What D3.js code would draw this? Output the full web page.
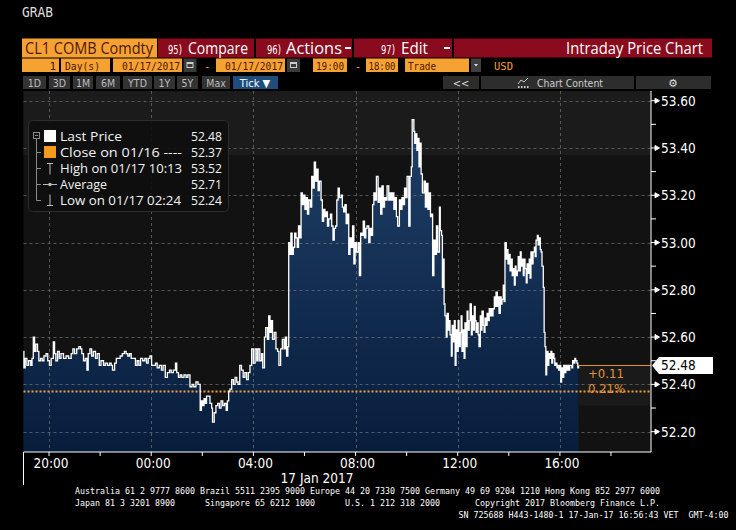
<!DOCTYPE html>
<html>
<head>
<meta charset="utf-8">
<script src="https://cdn.jsdelivr.net/npm/d3@7"></script>
<style>
html, body { margin: 0; padding: 0; background: #000; }
svg { display: block; }
</style>
</head>
<body>
<svg id="chart" width="736" height="530"></svg>
<script>
// Tick data: minutes after the 19:00 session open (16 Jan 2017) and price
const tickMinutes = [
    0, 1, 4, 8, 12, 17, 20, 23, 26, 29,
    33, 36, 40, 44, 48, 53, 57, 61, 65, 70,
    73, 76, 80, 84, 88, 94, 100, 106, 112, 116,
    120, 125, 130, 134, 137, 141, 145, 149, 152, 156,
    160, 164, 169, 173, 178, 182, 188, 192, 197, 202,
    206, 209, 214, 218, 223, 227, 232, 237, 241, 245,
    249, 253, 258, 263, 267, 271, 275, 280, 285, 289,
    293, 297, 301, 305, 310, 314, 319, 324, 328, 333,
    338, 343, 347, 352, 357, 360, 364, 368, 372, 377,
    382, 386, 391, 396, 400, 405, 410, 415, 418, 421,
    424, 427, 430, 434, 438, 442, 444, 448, 452, 456,
    460, 464, 468, 472, 476, 479, 482, 485, 489, 493,
    497, 501, 504, 508, 512, 516, 520, 524, 528, 532,
    536, 540, 544, 548, 551, 555, 559, 562, 566, 569,
    573, 576, 579, 582, 585, 589, 593, 597, 600, 604,
    608, 612, 615, 618, 621, 623, 626, 628, 631, 634,
    637, 640, 643, 646, 649, 652, 655, 658, 661, 664,
    667, 670, 674, 677, 680, 683, 686, 689, 692, 695,
    699, 702, 705, 708, 711, 714, 717, 721, 724, 727,
    730, 733, 736, 739, 742, 746, 749, 752, 755, 758,
    761, 764, 767, 770, 773, 776, 779, 782, 786, 789,
    792, 795, 798, 801, 804, 807, 811, 814, 817, 820,
    823, 826, 829, 833, 836, 839, 842, 845, 848, 851,
    854, 858, 861, 864, 867, 870, 873, 876, 879, 883,
    886, 889, 892, 895, 898, 901, 905, 908, 911, 913,
    917, 919, 922, 924, 926, 929, 931, 934, 937, 941,
    944, 947, 950, 953, 956, 959, 961, 964, 967, 970,
    973, 977, 979, 982, 984, 986, 988, 990, 993, 995,
    998, 1000, 1002, 1005, 1007, 1009, 1012, 1014, 1016, 1019,
    1021, 1023, 1026, 1028, 1030, 1033, 1035, 1037, 1040, 1042,
    1044, 1047, 1049, 1052, 1054, 1056, 1059, 1061, 1063, 1066,
    1068, 1070, 1073, 1075, 1077, 1080, 1082, 1084, 1087, 1089,
    1091, 1094, 1096, 1098, 1101, 1103, 1106, 1108, 1110, 1113,
    1115, 1117, 1120, 1122, 1124, 1127, 1129, 1131, 1134, 1136,
    1138, 1141, 1143, 1146, 1148, 1150, 1153, 1155, 1157, 1160,
    1162, 1164, 1167, 1169, 1171, 1174, 1176, 1178, 1181, 1183,
    1185, 1188, 1190, 1192, 1195, 1197, 1200, 1202, 1204, 1207,
    1209, 1211, 1214, 1216, 1218, 1221, 1223, 1225, 1227, 1229,
    1232, 1234, 1236, 1239, 1241, 1243, 1246, 1248, 1250, 1253,
    1255, 1257, 1260, 1262, 1264, 1267, 1269, 1272, 1274, 1276,
    1279, 1281, 1283, 1286, 1288, 1290, 1293, 1295, 1297, 1300,
    1302, 1304
];
const tickPrices = [
    52.54, 52.47, 52.51, 52.48, 52.50, 52.48, 52.51, 52.60, 52.54, 52.57,
    52.54, 52.50, 52.51, 52.50, 52.52, 52.53, 52.50, 52.48, 52.51, 52.58,
    52.53, 52.50, 52.54, 52.51, 52.53, 52.51, 52.52, 52.51, 52.53, 52.55,
    52.53, 52.55, 52.56, 52.55, 52.53, 52.50, 52.51, 52.46, 52.53, 52.55,
    52.52, 52.54, 52.51, 52.53, 52.48, 52.50, 52.48, 52.49, 52.48, 52.49,
    52.48, 52.46, 52.49, 52.51, 52.51, 52.52, 52.53, 52.54, 52.53, 52.52,
    52.53, 52.51, 52.51, 52.48, 52.50, 52.48, 52.51, 52.50, 52.51, 52.49,
    52.51, 52.52, 52.48, 52.48, 52.49, 52.47, 52.48, 52.46, 52.48, 52.43,
    52.45, 52.46, 52.45, 52.46, 52.49, 52.45, 52.43, 52.44, 52.43, 52.44,
    52.43, 52.44, 52.39, 52.40, 52.39, 52.41, 52.40, 52.29, 52.33, 52.31,
    52.34, 52.32, 52.35, 52.35, 52.32, 52.30, 52.24, 52.28, 52.31, 52.32,
    52.30, 52.33, 52.31, 52.32, 52.29, 52.33, 52.37, 52.38, 52.42, 52.40,
    52.43, 52.41, 52.40, 52.48, 52.46, 52.43, 52.45, 52.42, 52.45, 52.48,
    52.55, 52.49, 52.55, 52.50, 52.55, 52.50, 52.53, 52.47, 52.60, 52.64,
    52.59, 52.69, 52.62, 52.67, 52.59, 52.62, 52.55, 52.54, 52.48, 52.55,
    52.59, 52.55, 52.60, 52.52, 52.56, 53.00, 52.95, 53.04, 52.95, 52.98,
    53.04, 53.02, 52.98, 53.07, 53.02, 53.21, 53.16, 53.20, 53.14, 53.19,
    53.12, 53.18, 53.15, 53.28, 53.23, 53.34, 53.26, 53.31, 53.22, 53.26,
    53.18, 53.09, 53.14, 53.11, 53.13, 53.07, 53.10, 53.12, 53.07, 53.01,
    53.06, 53.07, 53.18, 53.23, 53.19, 53.20, 53.15, 53.13, 53.16, 53.08,
    53.12, 52.95, 53.02, 52.98, 53.07, 52.91, 53.00, 52.96, 53.00, 52.86,
    53.04, 53.03, 53.09, 53.02, 53.06, 53.07, 53.00, 53.06, 53.03, 53.16,
    53.21, 53.18, 53.28, 53.17, 53.23, 53.12, 53.24, 53.15, 53.19, 53.18,
    53.24, 53.18, 53.21, 53.18, 53.21, 53.14, 53.19, 53.11, 53.07, 53.18,
    53.14, 53.19, 53.16, 53.23, 53.19, 53.28, 53.07, 53.28, 53.32, 53.52,
    53.47, 53.42, 53.46, 53.39, 53.44, 53.32, 53.42, 53.29, 53.21, 53.26,
    53.15, 53.25, 53.14, 53.21, 53.11, 53.12, 52.86, 53.01, 52.95, 53.07,
    52.96, 53.15, 53.05, 53.03, 52.81, 52.93, 52.74, 52.69, 52.60, 52.70,
    52.63, 52.67, 52.61, 52.52, 52.65, 52.58, 52.67, 52.48, 52.63, 52.54,
    52.67, 52.56, 52.62, 52.69, 52.54, 52.63, 52.51, 52.66, 52.56, 52.71,
    52.63, 52.67, 52.74, 52.61, 52.69, 52.63, 52.73, 52.67, 52.62, 52.66,
    52.61, 52.56, 52.69, 52.63, 52.71, 52.65, 52.62, 52.68, 52.65, 52.70,
    52.67, 52.72, 52.69, 52.72, 52.69, 52.72, 52.77, 52.73, 52.79, 52.73,
    52.77, 52.70, 52.77, 52.74, 52.76, 52.82, 52.75, 53.00, 52.93, 52.97,
    52.91, 52.95, 52.88, 52.93, 52.86, 52.89, 52.82, 52.90, 52.86, 52.88,
    52.94, 52.88, 52.96, 52.90, 52.93, 52.86, 52.93, 52.89, 52.83, 52.91,
    52.87, 52.93, 52.85, 52.96, 52.91, 52.96, 52.98, 52.94, 53.01, 53.03,
    52.99, 53.02, 52.97, 52.96, 52.90, 52.81, 52.62, 52.56, 52.44, 52.54,
    52.48, 52.53, 52.51, 52.54, 52.49, 52.53, 52.51, 52.48, 52.49, 52.47,
    52.48, 52.46, 52.48, 52.41, 52.47, 52.43, 52.48, 52.45, 52.48, 52.46,
    52.48, 52.46, 52.48, 52.48, 52.47, 52.50, 52.49, 52.51, 52.50, 52.49,
    52.47, 52.48
];

const priceTicks = [52.20, 52.40, 52.60, 52.80, 53.00, 53.20, 53.40, 53.60];
const minorPriceTicks = [52.30, 52.50, 52.70, 52.90, 53.10, 53.30, 53.50];
const lastPrice = 52.48;
const prevClose = 52.37;
const netChange = "+0.11";
const pctChange = "0.21%";

const legendLabels = ["Last Price", "Close on 01/16 ----", "High on 01/17 10:13", "Average", "Low on 01/17 02:24"];
const legendValues = ["52.48", "52.37", "53.52", "52.71", "52.24"];

const rangeButtons = ["1D", "3D", "1M", "6M", "YTD", "1Y", "5Y", "Max"];
const footerLines = [
    "Australia 61 2 9777 8600 Brazil 5511 2395 9000 Europe 44 20 7330 7500 Germany 49 69 9204 1210 Hong Kong 852 2977 6000",
    "Japan 81 3 3201 8900      Singapore 65 6212 1000      U.S. 1 212 318 2000       Copyright 2017 Bloomberg Finance L.P.",
    "SN 725688 H443-1480-1 17-Jan-17 16:56:43 VET  GMT-4:00"
];

const svg = d3.select("#chart");
const UI = "'Open Sans', sans-serif";
const COND = "'DejaVu Sans Condensed', 'DejaVu Sans', sans-serif";
const MONO = "'DejaVu Sans Mono', monospace";

svg.append("rect").attr("width", 736).attr("height", 530).attr("fill", "#000");

function txt(x, y, s, opt = {}) {
    const t = svg.append("text")
        .attr("x", x).attr("y", y)
        .attr("fill", opt.color || "#fff")
        .attr("font-family", opt.font || UI)
        .attr("font-size", opt.size || 13)
        .attr("text-anchor", opt.anchor || "start")
        .style("white-space", "pre")
        .text(s);
    if (opt.weight) t.attr("font-weight", opt.weight);
    if (opt.width) t.attr("textLength", opt.width).attr("lengthAdjust", "spacingAndGlyphs");
    return t;
}
function box(x, y, w, h, fill) {
    return svg.append("rect").attr("x", x).attr("y", y).attr("width", w).attr("height", h).attr("fill", fill);
}

// ---------- header ----------
txt(22, 17, "GRAB", { font: MONO, size: 14, color: "#ddd", width: 31 });

const ORANGE = "#f6a232", RED = "#890b1d", DARK = "#4e1606";
box(22, 38.5, 135, 19, ORANGE);
txt(25, 54, "CL1 COMB Comdty", { size: 15.5, color: DARK, width: 128 });
[[158, 96], [256, 96], [354, 98], [454, 258]].forEach(([bx, w]) => box(bx, 38.5, w, 19, RED));
txt(168, 53.5, "95)", { font: COND, size: 12.5, width: 14 });
txt(188, 54, "Compare", { size: 15.5, width: 60 });
txt(267, 53.5, "96)", { font: COND, size: 12.5, width: 14 });
txt(286, 54, "Actions", { size: 15.5, width: 56 });
box(345, 47, 6, 2, "#fff");
txt(381, 53.5, "97)", { font: COND, size: 12.5, width: 14 });
txt(401, 54, "Edit", { size: 15.5, width: 27 });
box(444, 47, 6, 2, "#fff");
txt(703, 54, "Intraday Price Chart", { size: 15.5, anchor: "end", width: 137 });

// row 2
const r2y = 58.5, r2h = 13.5, r2b = 69.5;
box(22, r2y, 37, r2h, ORANGE);
txt(56, r2b, "1", { font: MONO, size: 11, color: DARK, anchor: "end" });
box(61, r2y, 49, r2h, ORANGE);
txt(65, r2b, "Day(s)", { font: MONO, size: 11, color: DARK, width: 35 });
box(113, r2y, 69, r2h, ORANGE);
txt(180, r2b, "01/17/2017", { font: MONO, size: 11, color: DARK, anchor: "end", width: 58 });
box(216, r2y, 69, r2h, ORANGE);
txt(283, r2b, "01/17/2017", { font: MONO, size: 11, color: DARK, anchor: "end", width: 58 });
[183.5, 287].forEach(bx => {
    box(bx, r2y, 13, r2h, "#3a3a3a");
    svg.append("rect").attr("x", bx + 3.5).attr("y", r2y + 4).attr("width", 6).attr("height", 5)
        .attr("fill", "none").attr("stroke", "#ccc").attr("stroke-width", 1);
    box(bx + 3.5, r2y + 3.5, 6, 2, "#ccc");
});
txt(207, r2b, "-", { font: MONO, size: 11, color: ORANGE, anchor: "middle" });
box(313, r2y, 34, r2h, ORANGE);
txt(330, r2b, "19:00", { font: MONO, size: 11, color: DARK, anchor: "middle", width: 28 });
txt(358, r2b, "-", { font: MONO, size: 11, color: ORANGE, anchor: "middle" });
box(366, r2y, 32, r2h, ORANGE);
txt(382, r2b, "18:00", { font: MONO, size: 11, color: DARK, anchor: "middle", width: 27 });
box(405, r2y, 64, r2h, ORANGE);
txt(408, r2b, "Trade", { font: MONO, size: 11, color: DARK, width: 28 });
box(471, r2y, 10, r2h, "#3f3f3f");
svg.append("path").attr("d", "M474,64 h4 l-2,2.5 z").attr("fill", "#ddd");
txt(494, r2b, "USD", { font: MONO, size: 11, color: ORANGE, width: 19 });

// row 3 buttons
const r3y = 76, r3h = 13;
const btnX = [[23, 23], [49, 21], [73, 20], [96, 24], [123, 29], [154, 21], [177, 21], [202, 28]];
rangeButtons.forEach((b, i) => {
    const [bx, w] = btnX[i];
    box(bx, r3y, w, r3h, "#333");
    txt(bx + w / 2, 86.5, b, { font: COND, size: 10.5, color: "#bdbdbd", anchor: "middle" });
});
box(233, r3y, 45, r3h, "#1e4d7c");
txt(255, 86.5, "Tick ▼", { font: COND, size: 11, color: "#fff", anchor: "middle" });
box(443, r3y, 36, r3h, "#2d2d2d");
txt(461, 86.5, "<<", { font: COND, size: 11, color: "#ddd", anchor: "middle" });
box(481, r3y, 153, r3h, "#2d2d2d");
svg.append("path").attr("d", "M518,84 l3,-4 l3,2 l4,-4").attr("fill", "none").attr("stroke", "#ccc");
[518, 521, 524, 527].forEach(bx => box(bx, 86, 1.5, 2, "#ccc"));
txt(570, 86.5, "Chart Content", { font: COND, size: 11, color: "#cfcfcf", anchor: "middle", width: 66 });
box(636, r3y, 75, r3h, "#2d2d2d");
txt(673, 87, "⚙", { font: "'DejaVu Sans', sans-serif", size: 11, color: "#ddd", anchor: "middle" });

// ---------- plot ----------
const pLeft = 23.5, pRight = 651, pTop = 91, pBottom = 452;
const sessionStart = new Date(2017, 0, 16, 19, 0);
const x = d3.scaleTime()
    .domain([sessionStart, new Date(2017, 0, 17, 19, 34)])
    .range([pLeft, pRight]);
const y = d3.scaleLinear()
    .domain([52.114, 53.641])
    .range([pBottom, pTop]);

const n = Math.min(tickMinutes.length, tickPrices.length);
const series = d3.range(n).map(i => ({
    time: d3.timeMinute.offset(sessionStart, tickMinutes[i]),
    price: tickPrices[i]
}));

// background
box(pLeft, pTop, pRight - pLeft, pBottom - pTop, "#121212");
box(pLeft, pTop, pRight - pLeft, 155 - pTop, "#1b1b1b");

const defs = svg.append("defs");
const grad = defs.append("linearGradient").attr("id", "fillGrad")
    .attr("gradientUnits", "userSpaceOnUse")
    .attr("x1", 0).attr("x2", 0).attr("y1", pTop).attr("y2", pBottom);
grad.append("stop").attr("offset", 0).attr("stop-color", "#21426b");
grad.append("stop").attr("offset", 1).attr("stop-color", "#071d3c");

const area = d3.area()
    .curve(d3.curveStepAfter)
    .x(d => x(d.time))
    .y0(pBottom)
    .y1(d => y(d.price));
svg.append("path").datum(series).attr("d", area).attr("fill", "url(#fillGrad)");

// change annotation background
const endX = x(series[n - 1].time);
box(endX, y(lastPrice), pRight - endX, y(52.31) - y(lastPrice), "#1a1a1a");

// grid
const grid = svg.append("g").attr("stroke", "rgba(140,140,140,0.55)").attr("stroke-dasharray", "3,3").attr("stroke-width", 1);
priceTicks.forEach(p => grid.append("line").attr("x1", pLeft).attr("x2", pRight).attr("y1", Math.round(y(p)) + 0.5).attr("y2", Math.round(y(p)) + 0.5));
const majorTimes = x.ticks(d3.timeHour.every(4));
majorTimes.forEach(t => grid.append("line").attr("x1", Math.round(x(t)) + 0.5).attr("x2", Math.round(x(t)) + 0.5).attr("y1", pTop).attr("y2", pBottom));

// previous close dotted line
svg.append("line")
    .attr("x1", pLeft).attr("x2", pRight)
    .attr("y1", y(prevClose)).attr("y2", y(prevClose))
    .attr("stroke", "#f0a040").attr("stroke-width", 2).attr("stroke-dasharray", "2,2");

// price line
const line = d3.line()
    .curve(d3.curveStepAfter)
    .x(d => x(d.time))
    .y(d => y(d.price));
svg.append("path").datum(series).attr("d", line)
    .attr("fill", "none").attr("stroke", "#fff").attr("stroke-width", 1.3);

// last price line + change labels
svg.append("line")
    .attr("x1", endX).attr("x2", pRight)
    .attr("y1", y(lastPrice)).attr("y2", y(lastPrice))
    .attr("stroke", "#e8952f").attr("stroke-width", 1);
txt(588, y(lastPrice) + 13, netChange, { font: COND, size: 13, color: "#e39436" });
txt(588, y(lastPrice) + 28, pctChange, { font: COND, size: 13, color: "#e39436" });

// axes frame
svg.append("line").attr("x1", pRight).attr("x2", pRight).attr("y1", pTop).attr("y2", pBottom).attr("stroke", "#fff");
svg.append("line").attr("x1", pLeft).attr("x2", pRight).attr("y1", pBottom).attr("y2", pBottom).attr("stroke", "#fff");
svg.append("line").attr("x1", pLeft).attr("x2", pLeft).attr("y1", pBottom).attr("y2", 485).attr("stroke", "#fff");

// right axis ticks and labels
priceTicks.forEach(p => {
    const yy = y(p);
    svg.append("path").attr("d", `M${pRight},${yy} h4 v-2.5 l4.5,2.5 l-4.5,2.5 v-2.5`)
        .attr("fill", "#fff").attr("stroke", "#fff").attr("stroke-width", 1);
    txt(661, yy + 5, p.toFixed(2), { font: COND, size: 13.5, color: "#fff" });
});
minorPriceTicks.forEach(p => {
    svg.append("line").attr("x1", pRight).attr("x2", pRight + 5).attr("y1", y(p)).attr("y2", y(p)).attr("stroke", "#fff");
});

// last price tag
const ly = y(lastPrice);
svg.append("path").attr("d", `M${pRight + 1},${ly} L${pRight + 8},${ly - 8.5} H713 V${ly + 8.5} H${pRight + 8} Z`).attr("fill", "#fff");
txt(661, ly + 5, lastPrice.toFixed(2), { font: COND, size: 13.5, color: "#000" });

// bottom axis ticks and labels
x.ticks(d3.timeHour.every(2)).forEach(t => {
    svg.append("line").attr("x1", x(t)).attr("x2", x(t)).attr("y1", pBottom).attr("y2", pBottom + 4).attr("stroke", "#fff");
});
const fmt = d3.timeFormat("%H:%M");
majorTimes.forEach(t => txt(x(t) + 2, 468, fmt(t), { font: COND, size: 13.5, color: "#fff", anchor: "middle" }));
txt(317, 483, "17 Jan 2017", { font: COND, size: 13.5, color: "#fff", anchor: "middle" });

// ---------- legend ----------
svg.append("rect").attr("x", 28.5).attr("y", 120.5).attr("width", 200).attr("height", 91).attr("rx", 4)
    .attr("fill", "rgba(14,14,14,0.92)").attr("stroke", "#2e2e2e");
const rowY = [136.5, 152.5, 168.5, 184.5, 200.5];
const labelWidths = [62, 122, 122, 47, 121];
const tree = svg.append("g").attr("stroke", "#8a8a8a").attr("fill", "none").attr("stroke-width", 1);
tree.append("rect").attr("x", 33.5).attr("y", 132.5).attr("width", 6).attr("height", 6);
tree.append("line").attr("x1", 35).attr("x2", 38).attr("y1", 135.5).attr("y2", 135.5);
tree.append("line").attr("x1", 36.5).attr("x2", 36.5).attr("y1", 139).attr("y2", rowY[4]);
rowY.slice(1).forEach(ry => tree.append("line").attr("x1", 36.5).attr("x2", 41).attr("y1", ry).attr("y2", ry));
box(44, 130, 12, 12, "#fff");
box(44, 146, 12, 12, "#f39a1f");
// high marker
tree.append("path").attr("d", `M47,${rowY[2] - 5} h6 M50,${rowY[2] - 5} v11`).attr("stroke", "#bbb");
// average marker
tree.append("path").attr("d", `M43,${rowY[3]} h14`).attr("stroke", "#bbb");
svg.append("circle").attr("cx", 50).attr("cy", rowY[3]).attr("r", 1.8).attr("fill", "#bbb");
// low marker
tree.append("path").attr("d", `M47,${rowY[4] + 5} h6 M50,${rowY[4] + 5} v-11`).attr("stroke", "#bbb");

legendLabels.forEach((l, i) => {
    txt(60, rowY[i] + 4.5, l, { size: 12.5, color: "#f2f2f2", width: labelWidths[i] });
    txt(222, rowY[i] + 4.5, legendValues[i], { size: 12.5, color: "#f2f2f2", anchor: "end", width: 31 });
});

// ---------- footer ----------
txt(75, 494, footerLines[0], { font: MONO, size: 8.5, color: "#fff", width: 585 });
txt(75, 506, footerLines[1], { font: MONO, size: 8.5, color: "#fff", width: 585 });
txt(728.5, 518, footerLines[2], { font: MONO, size: 8.5, color: "#fff", anchor: "end", width: 270 });
</script>
</body>
</html>
